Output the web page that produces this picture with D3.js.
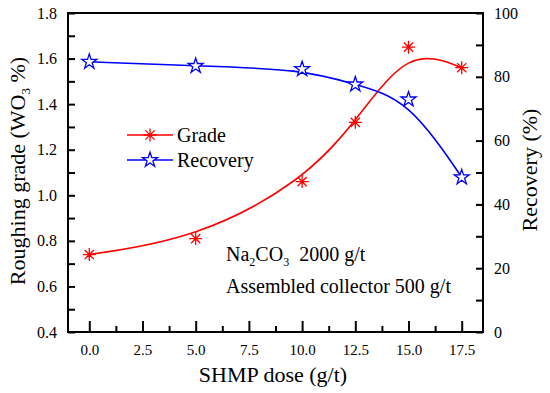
<!DOCTYPE html>
<html>
<head>
<meta charset="utf-8">
<script src="https://cdn.jsdelivr.net/npm/d3@7"></script>
<style>
  body { margin: 0; background: #fff; }
</style>
</head>
<body>
<div class="chart"></div>
<script>
// SHMP dose (g/t)
const doses = [0, 5, 10, 12.5, 15, 17.5];
// roughing grade, WO3 %
const grade = [0.74, 0.81, 1.06, 1.32, 1.65, 1.56];
// recovery, %
const recovery = [84.7, 83.4, 82.4, 77.6, 72.9, 48.5];

const xTicks = [0, 2.5, 5, 7.5, 10, 12.5, 15, 17.5];
const leftTicks = [0.4, 0.6, 0.8, 1.0, 1.2, 1.4, 1.6, 1.8];
const rightTicks = [0, 20, 40, 60, 80, 100];

const serif = "'Liberation Serif', 'Times New Roman', Times, 'DejaVu Serif', serif";

function draw_chart() {
    const width = 550, height = 393;
    const svg = d3.select('.chart')
        .append('svg')
        .attr('width', width)
        .attr('height', height)
        .style('font-family', serif);

    const left = 68, right = 483, top = 13, bottom = 332;

    const x = d3.scaleLinear().domain([-1, 18.5]).range([left, right]);
    const yL = d3.scaleLinear().domain([0.4, 1.8]).range([bottom, top]);
    const yR = d3.scaleLinear().domain([0, 100]).range([bottom, top]);

    // minor ticks (no labels)
    const xMinor = d3.range(0, 18.5, 1.25).filter(v => xTicks.indexOf(v) < 0);
    const lMinor = d3.range(0.5, 1.8, 0.2).map(v => +v.toFixed(1));
    const rMinor = d3.range(10, 100, 20);

    const axB = svg.append('g')
        .attr('transform', `translate(0, ${bottom})`)
        .call(d3.axisBottom(x).tickValues(xTicks).tickSize(-11).tickPadding(12)
            .tickFormat(d3.format('.1f')));
    svg.append('g')
        .attr('transform', `translate(0, ${bottom})`)
        .call(d3.axisBottom(x).tickValues(xMinor).tickSize(-6).tickFormat(''));

    svg.append('g')
        .attr('transform', `translate(${left}, 0)`)
        .call(d3.axisLeft(yL).tickValues(leftTicks).tickSize(-7).tickPadding(11)
            .tickFormat(d3.format('.1f')));
    svg.append('g')
        .attr('transform', `translate(${left}, 0)`)
        .call(d3.axisLeft(yL).tickValues(lMinor).tickSize(-7).tickFormat(''));

    svg.append('g')
        .attr('transform', `translate(${right}, 0)`)
        .call(d3.axisRight(yR).tickValues(rightTicks).tickSize(-7).tickPadding(11));
    svg.append('g')
        .attr('transform', `translate(${right}, 0)`)
        .call(d3.axisRight(yR).tickValues(rMinor).tickSize(-7).tickFormat(''));

    svg.selectAll('.domain').remove();
    svg.selectAll('g').attr('font-family', null);
    svg.selectAll('.tick line').attr('stroke', '#000').attr('stroke-width', 2);
    svg.selectAll('.tick text').attr('font-size', 16);
    axB.selectAll('.tick text').attr('font-size', 15);

    // frame
    svg.append('rect')
        .attr('x', left).attr('y', top)
        .attr('width', right - left).attr('height', bottom - top)
        .attr('fill', 'none')
        .attr('stroke', '#000')
        .attr('stroke-width', 2);

    // curves (B-spline like Origin)
    const gradeData = doses.map((d, i) => [d, grade[i]]);
    const recData = doses.map((d, i) => [d, recovery[i]]);

    svg.append('path')
        .datum(gradeData)
        .attr('fill', 'none')
        .attr('stroke', '#ff0000')
        .attr('stroke-width', 1.6)
        .attr('d', d3.line().x(d => x(d[0])).y(d => yL(d[1])).curve(d3.curveBasis));

    svg.append('path')
        .datum(recData)
        .attr('fill', 'none')
        .attr('stroke', '#0000ff')
        .attr('stroke-width', 1.6)
        .attr('d', d3.line().x(d => x(d[0])).y(d => yR(d[1])).curve(d3.curveBasis));

    const asterisk = (r) => {
        let p = '';
        for (let k = 0; k < 4; k++) {
            const a = k * Math.PI / 4;
            p += `M${-r * Math.cos(a)},${-r * Math.sin(a)}L${r * Math.cos(a)},${r * Math.sin(a)}`;
        }
        return p;
    };
    const star = d3.symbol().type(d3.symbolStar).size(70)();

    svg.append('g').selectAll('path')
        .data(gradeData)
        .join('path')
        .attr('transform', d => `translate(${x(d[0])}, ${yL(d[1])})`)
        .attr('d', asterisk(6.5))
        .attr('stroke', '#ff0000')
        .attr('stroke-width', 1.3);

    svg.append('g').selectAll('path')
        .data(recData)
        .join('path')
        .attr('transform', d => `translate(${x(d[0])}, ${yR(d[1])})`)
        .attr('d', star)
        .attr('fill', '#fff')
        .attr('stroke', '#0000ff')
        .attr('stroke-width', 1.3);

    // legend
    const legend = svg.append('g').attr('font-size', 20);
    const items = [
        { name: 'Grade', color: '#ff0000', mark: asterisk(6.5), fill: 'none', y: 135 },
        { name: 'Recovery', color: '#0000ff', mark: star, fill: '#fff', y: 160 }
    ];
    items.forEach(it => {
        legend.append('line')
            .attr('x1', 127).attr('x2', 173)
            .attr('y1', it.y).attr('y2', it.y)
            .attr('stroke', it.color).attr('stroke-width', 1.6);
        legend.append('path')
            .attr('transform', `translate(150, ${it.y})`)
            .attr('d', it.mark)
            .attr('fill', it.fill)
            .attr('stroke', it.color)
            .attr('stroke-width', 1.3);
        legend.append('text')
            .attr('x', 177).attr('y', it.y + 7)
            .text(it.name);
    });

    // annotation
    const note = svg.append('g').attr('font-size', 20);
    const t1 = note.append('text').attr('x', 226).attr('y', 261);
    t1.append('tspan').text('Na');
    t1.append('tspan').attr('font-size', 12).attr('dy', 5).text('2');
    t1.append('tspan').attr('dy', -5).text('CO');
    t1.append('tspan').attr('font-size', 12).attr('dy', 5).text('3');
    t1.append('tspan').attr('dy', -5).text('\u00a0 2000 g/t');
    note.append('text').attr('x', 226).attr('y', 293).text('Assembled collector 500 g/t');

    // axis titles
    svg.append('text')
        .attr('x', 273).attr('y', 382)
        .attr('text-anchor', 'middle')
        .attr('font-size', 22)
        .text('SHMP dose (g/t)');

    const yt = svg.append('text')
        .attr('transform', 'translate(25, 171) rotate(-90)')
        .attr('text-anchor', 'middle')
        .attr('font-size', 22);
    yt.append('tspan').text('Roughing grade (WO');
    yt.append('tspan').attr('font-size', 13).attr('dy', 5).text('3');
    yt.append('tspan').attr('dy', -5).text(' %)');

    svg.append('text')
        .attr('transform', 'translate(537, 170) rotate(-90)')
        .attr('text-anchor', 'middle')
        .attr('font-size', 22)
        .text('Recovery (%)');

    svg.selectAll('text').style('font-family', serif);
}

draw_chart();
</script>
</body>
</html>
